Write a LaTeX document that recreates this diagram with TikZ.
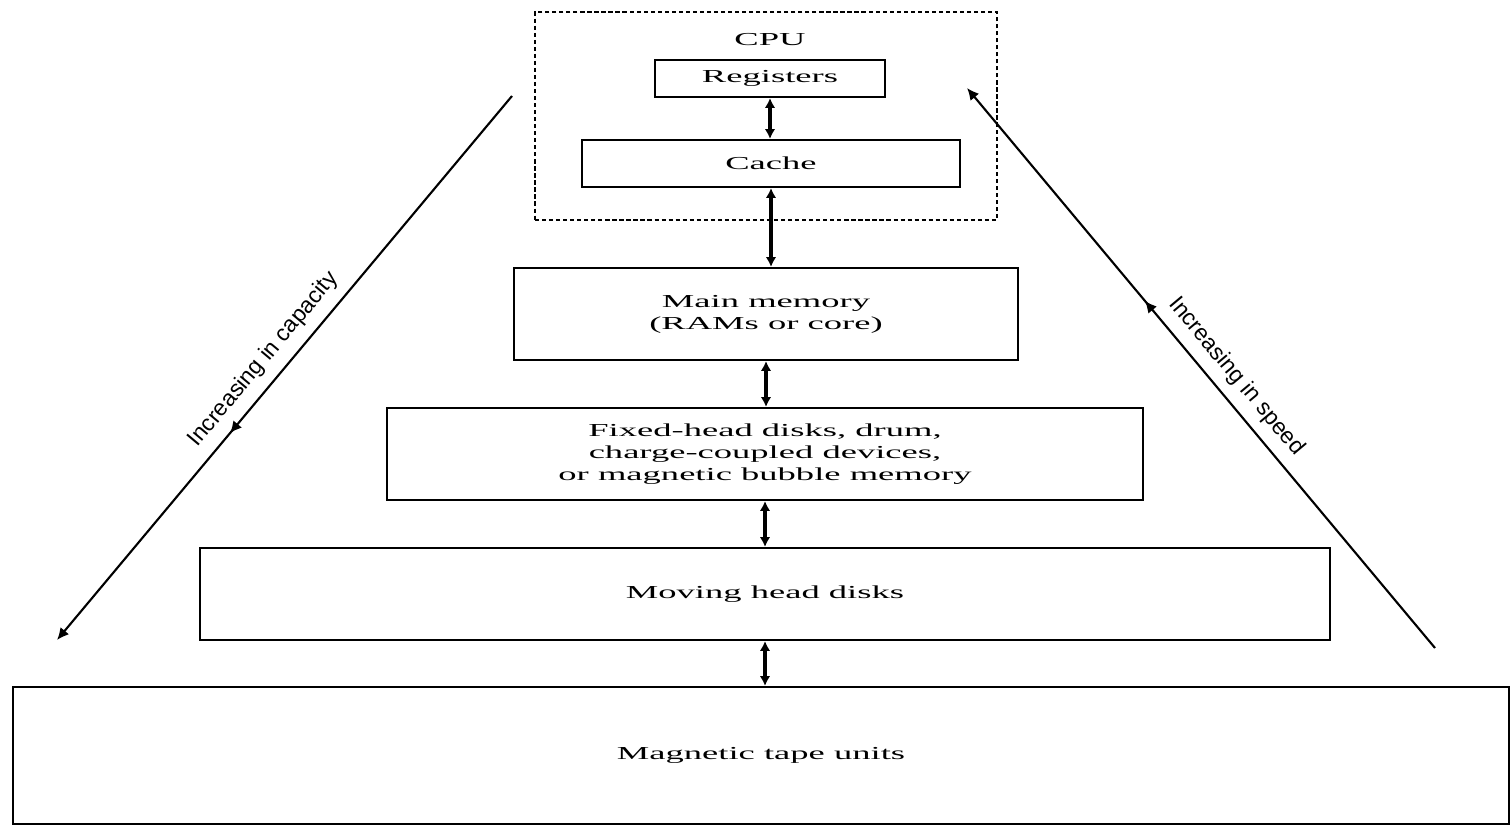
\documentclass[tikz,border=0pt]{standalone}
\usepackage{fontspec}
\setmainfont[FakeStretch=2.0]{Liberation Serif}
\newfontfamily\rotfont{Liberation Sans}
\usetikzlibrary{arrows.meta, decorations.markings}

\begin{document}
\begin{tikzpicture}[
    caja/.style={draw, line width=0.6pt, inner sep=0pt, align=center,
                 font=\fontsize{5.2}{6.2}\selectfont},
    enlace/.style={{Latex[length=2.8pt,width=3pt]}-{Latex[length=2.8pt,width=3pt]},
                   line width=0.9pt},
    tendencia/.style={-{Latex[length=3.4pt,width=3.2pt]}, line width=0.6pt,
                      postaction={decorate},
                      decoration={markings, mark=at position 0.62 with
                                  {\arrow{Latex[length=3.4pt,width=3.2pt]}}}},
    rotulo/.style={font=\rotfont\fontsize{6.5}{7.5}\selectfont, sloped,
                   above, inner sep=2.8pt},
]
\useasboundingbox (0,0) rectangle (15.1,-8.26);

%% Jerarquia: CPU arriba, cinta abajo
\node[draw, line width=0.5pt, dash pattern=on 1.2pt off 0.8pt,
      minimum width=4.62cm, minimum height=2.08cm] at (7.66,-1.16) (cpu) {};
\node[font=\fontsize{5.2}{6.2}\selectfont] at (7.70,-0.40) (cpulbl) {CPU};
\node[caja, minimum width=2.30cm, minimum height=0.37cm] at (7.70,-0.785) (reg) {Registers};
\node[caja, minimum width=3.78cm, minimum height=0.47cm] at (7.71,-1.635) (cache) {Cache};
\node[caja, minimum width=5.04cm, minimum height=0.92cm] at (7.66,-3.14) (mem)
    {Main memory\\(RAMs or core)};
\node[caja, minimum width=7.56cm, minimum height=0.92cm] at (7.65,-4.54) (drum)
    {Fixed-head disks, drum,\\charge-coupled devices,\\or magnetic bubble memory};
\node[caja, minimum width=11.30cm, minimum height=0.92cm] at (7.65,-5.94) (disk)
    {Moving head disks};
\node[caja, minimum width=14.96cm, minimum height=1.37cm] at (7.61,-7.555) (tape)
    {Magnetic tape units};

%% Enlaces entre niveles
\draw[enlace] (reg.south)   -- (reg.south |- cache.north);
\draw[enlace] (cache.south) -- (cache.south |- mem.north);
\draw[enlace] (mem.south)   -- (mem.south |- drum.north);
\draw[enlace] (drum.south)  -- (drum.south |- disk.north);
\draw[enlace] (disk.south)  -- (disk.south |- tape.north);

%% Tendencias laterales
\coordinate (capA) at (5.12,-0.96);
\coordinate (capB) at (0.57,-6.40);
\coordinate (spdA) at (14.35,-6.48);
\coordinate (spdB) at (9.67,-0.88);
\draw[tendencia] (capA) -- node[rotulo, pos=0.51]{Increasing in capacity} (capB);
\draw[tendencia] (spdA) -- node[rotulo, pos=0.46]{Increasing in speed} (spdB);
\end{tikzpicture}
\end{document}
